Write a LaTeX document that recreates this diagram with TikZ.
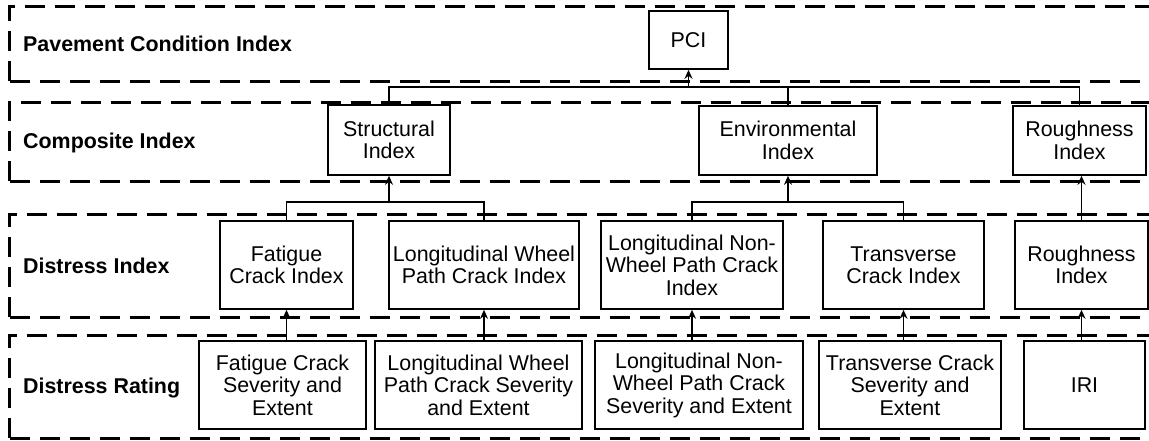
\documentclass[tikz,border=0pt]{standalone}
\usepackage{fontspec}
\setmainfont{Liberation Sans}
\usetikzlibrary{arrows.meta}
\begin{document}
\begin{tikzpicture}[x=1pt,y=-1pt,
  band/.style={line width=3pt, dash pattern=on 20pt off 10pt},
  bx/.style={draw, line width=1.6pt, align=center, inner sep=0pt, fill=white,
    font=\fontsize{21.4}{22.5}\selectfont},
  lbl/.style={anchor=base west, inner sep=0pt, font=\fontsize{21.4}{22.5}\selectfont\bfseries},
  conn/.style={line width=1.6pt},
  arr/.style={line width=1.6pt, -{Stealth[length=9pt,width=8pt]}}]

\useasboundingbox (0,0) rectangle (1149,440);

% bands
\begin{scope}
\clip (0,0) rectangle (1149,440);
\draw[band] (9.5,81) -- (9.5,6) -- (1160,6);
\draw[band] (9.5,81) -- (1160,81);
\draw[band] (9.5,181) -- (9.5,102) -- (1160,102);
\draw[band] (9.5,181) -- (1160,181);
\draw[band] (9.5,317) -- (9.5,214) -- (1160,214);
\draw[band] (9.5,317) -- (1160,317);
\draw[band] (9.5,438) -- (9.5,335) -- (1160,335);
\draw[band] (9.5,438) -- (1160,438);
\end{scope}

% band labels
\node[lbl] (l1) at (23,51) {Pavement Condition Index};
\node[lbl] (l2) at (23,148) {Composite Index};
\node[lbl] (l3) at (23,273) {Distress Index};
\node[lbl] (l4) at (23,393) {Distress Rating};

% level 1
\node[bx, minimum width=79pt, minimum height=58pt] (pci) at (688.5,40) {PCI};

% level 2
\node[bx, minimum width=122pt, minimum height=70pt] (struct) at (389,140) {Structural\\Index};
\node[bx, minimum width=178pt, minimum height=69pt] (env) at (788,140.5) {Environmental\\Index};
\node[bx, minimum width=133pt, minimum height=69pt] (rci) at (1079.5,140.5) {Roughness\\Index};

% level 3
\node[bx, minimum width=133pt, minimum height=88pt] (fci) at (286.5,265) {Fatigue\\Crack Index};
\node[bx, minimum width=190pt, minimum height=88pt] (lwpci) at (484,265) {Longitudinal Wheel\\Path Crack Index};
\node[bx, minimum width=182pt, minimum height=88pt] (lnwpci) at (692,265) {Longitudinal Non-\\Wheel Path Crack\\Index};
\node[bx, minimum width=161pt, minimum height=88pt] (tci) at (903.5,265) {Transverse\\Crack Index};
\node[bx, minimum width=133pt, minimum height=88pt] (rdi) at (1081.5,265) {Roughness\\Index};

% level 4
\node[bx, minimum width=167pt, minimum height=88pt] (fr) at (282.5,385) {Fatigue Crack\\Severity and\\Extent};
\node[bx, minimum width=207pt, minimum height=88pt] (lwpr) at (478.5,385) {Longitudinal Wheel\\Path Crack Severity\\and Extent};
\node[bx, minimum width=208pt, minimum height=88pt] (lnwpr) at (699,385) {Longitudinal Non-\\Wheel Path Crack\\Severity and Extent};
\node[bx, minimum width=182pt, minimum height=88pt] (tcr) at (910,385) {Transverse Crack\\Severity and\\Extent};
\node[bx, minimum width=121pt, minimum height=88pt] (iri) at (1084.5,385) {IRI};

% connectors
\coordinate (topbus) at (0,87);
\coordinate (midbus) at (0,202);

\draw[conn] (struct.north) |- (rci.north |- topbus) -- (rci.north);
\draw[conn] (env.north) -- (env.north |- topbus);
\draw[arr] (pci.south |- topbus) -- (pci.south);

\draw[conn] (fci.north) |- (lwpci.north |- midbus) -- (lwpci.north);
\draw[arr] (struct.south |- midbus) -- (struct.south);
\draw[conn] (lnwpci.north) |- (tci.north |- midbus) -- (tci.north);
\draw[arr] (env.south |- midbus) -- (env.south);
\draw[arr] (rdi.north) -- (rdi.north |- rci.south);

\draw[arr] (fr.north -| fci.south) -- (fci.south);
\draw[arr] (lwpr.north -| lwpci.south) -- (lwpci.south);
\draw[arr] (lnwpr.north -| lnwpci.south) -- (lnwpci.south);
\draw[arr] (tcr.north -| tci.south) -- (tci.south);
\draw[arr] (iri.north -| rdi.south) -- (rdi.south);
\end{tikzpicture}
\end{document}
